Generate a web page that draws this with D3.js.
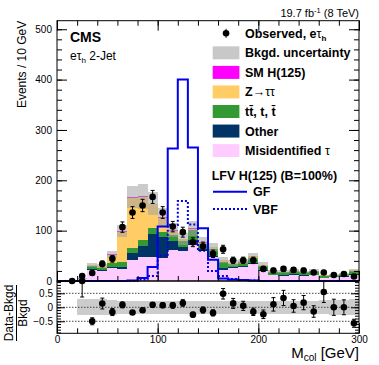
<!DOCTYPE html>
<html>
<head>
<meta charset="utf-8">
<script src="https://cdn.jsdelivr.net/npm/d3@7"></script>
<style>
body { margin: 0; background: #fff; }
text { font-family: "Liberation Sans", Arial, sans-serif; }
</style>
</head>
<body>
<div id="chart"></div>
<script>
// bins of 10 GeV, low edges
var binLow = [0,10,20,30,40,50,60,70,80,90,100,110,120,130,140,150,160,170,180,190,200,210,220,230,240,250,260,270,280,290];

// observed events per bin (null = not drawn)
var observed = [null,0,10,16,34,44,107,136,150,167,136,108,97,77,69,54,63,41,41,41,24,21,24,22,21,17,17,12,14,9];

// stacked backgrounds, bottom to top
var misidTau = [0,0,3,22,19,26,23,42,47,48,45,62,60,71,60,48,22,26,28,33,20,11,10,12,10,11,6,7,8,12];
var otherBkg = [0,0,0.5,1.5,2,2,4,14,22,45,43,17,8,10,4,2,3,2,2,2,2,1,1,1,1,1,0.5,0.5,1,1];
var ttbar    = [0,0,1,6,5,7,10,9,12,13,10,13,12,20,10,14,13,6,7,11,8,6,6,7,6,7,4,4,4,7];
var zTauTau  = [0,0,0.5,2,3.5,17,60,100,85,46,27,8,3,3,2,3,4,2,2,3,2,1,1,1,1,1,0.5,0.5,1,1];
var smHiggs  = [0,0,0,0.5,0.5,1,1.5,2,2,1.5,1.5,1,1,0.5,0.5,0.5,0.5,0,0,0,0,0,0,0,0,0,0,0,0,0];

// relative background uncertainty (main panel band) and ratio band half width
var bkgUnc   = [0,0,0.15,0.12,0.15,0.14,0.12,0.13,0.15,0.15,0.14,0.14,0.14,0.14,0.13,0.13,0.14,0.15,0.14,0.14,0.15,0.16,0.16,0.15,0.15,0.15,0.16,0.16,0.16,0.16];
var ratioUnc = [0,0,0.28,0.28,0.28,0.26,0.24,0.24,0.24,0.24,0.23,0.23,0.23,0.23,0.23,0.23,0.23,0.23,0.23,0.23,0.23,0.23,0.24,0.24,0.24,0.24,0.25,0.26,0.27,0.28];

// LFV signal (B=100%)
var lfvGF  = [0,0,0,0,0,0,0,1,6,28,108,263,400,265,105,42,5,3,2,1,0,0,0,0,0,0,0,0,0,0];
var lfvVBF = [0,0,0,0,0,0,0,0,3,10,50,111,159,112,60,20,10,4,2,1,0,0,0,0,0,0,0,0,0,0];

var yTicks = [0,100,200,300,400,500];
var xTicks = [0,100,200,300];
var ratioTicks = [-0.5,0,0.5];

var W = 379, H = 365;
var padL = 57, padR = 359, padT = 20.7, yMid = 281, padB = 333.3;

var colors = {misid:"#ffccff", other:"#003366", tt:"#339933", ztt:"#ffcc66", smh:"#ff00ff"};

var svg = d3.select("#chart").append("svg").attr("width", W).attr("height", H);

var x = d3.scaleLinear().domain([0,300]).range([padL,padR]);
var y = d3.scaleLinear().domain([0,517]).range([yMid,padT]);
var yr = d3.scaleLinear().domain([-0.93,0.94]).range([padB,yMid]);

var rows = binLow.map(function(b,i){
  return {lo:b, hi:b+10, misid:misidTau[i], other:otherBkg[i], tt:ttbar[i], ztt:zTauTau[i], smh:smHiggs[i]};
});
var keys = ["misid","other","tt","ztt","smh"];
var stacked = d3.stack().keys(keys)(rows);
var totals = rows.map(function(r){ return r.misid+r.other+r.tt+r.ztt+r.smh; });

// stack
stacked.forEach(function(layer){
  svg.append("g").selectAll("rect")
    .data(layer)
    .enter().append("rect")
    .attr("x", function(d){ return x(d.data.lo); })
    .attr("width", function(d){ return x(d.data.hi)-x(d.data.lo); })
    .attr("y", function(d){ return y(d[1]); })
    .attr("height", function(d){ return Math.max(0, y(d[0])-y(d[1])); })
    .attr("fill", colors[layer.key])
    .attr("shape-rendering","crispEdges");
});

// bkgd uncertainty band
svg.append("g").selectAll("rect")
  .data(rows.filter(function(d,i){ return totals[i] > 0; }))
  .enter().append("rect")
  .attr("x", function(d){ return x(d.lo); })
  .attr("width", function(d){ return x(d.hi)-x(d.lo); })
  .attr("y", function(d){ var i = binLow.indexOf(d.lo); return y(totals[i]*(1+bkgUnc[i])); })
  .attr("height", function(d){ var i = binLow.indexOf(d.lo); return y(totals[i]*(1-bkgUnc[i])) - y(totals[i]*(1+bkgUnc[i])); })
  .attr("fill", "#a0a0a0")
  .attr("fill-opacity", 0.55)
  .attr("shape-rendering","crispEdges");

// signal outlines
function stepPts(vals){
  var pts = binLow.map(function(b,i){ return [b, vals[i]]; });
  pts.push([300, vals[vals.length-1]]);
  return pts;
}
var stepLine = d3.line()
  .x(function(d){ return x(d[0]); })
  .y(function(d){ return y(d[1]); })
  .curve(d3.curveStepAfter);

svg.append("path").attr("d", stepLine(stepPts(lfvGF)))
  .attr("fill","none").attr("stroke","#0000ee").attr("stroke-width",2);
svg.append("path").attr("d", stepLine(stepPts(lfvVBF)))
  .attr("fill","none").attr("stroke","#0000ee").attr("stroke-width",2).attr("stroke-dasharray","2,2");

// observed points
var obs = binLow.map(function(b,i){ return {c:b+5, n:observed[i]}; }).filter(function(d){ return d.n !== null; });
var gObs = svg.append("g");
obs.forEach(function(d){
  if (d.n > 0) {
    var e = Math.sqrt(d.n);
    gObs.append("line").attr("x1",x(d.c)).attr("x2",x(d.c)).attr("y1",y(d.n+e)).attr("y2",y(d.n-e)).attr("stroke","#000");
    [d.n+e, d.n-e].forEach(function(v){
      gObs.append("line").attr("x1",x(d.c)-2).attr("x2",x(d.c)+2).attr("y1",y(v)).attr("y2",y(v)).attr("stroke","#000");
    });
  }
  gObs.append("circle").attr("cx",x(d.c)).attr("cy",y(d.n)).attr("r",3.3).attr("fill","#000");
});

// ratio panel band
svg.append("g").selectAll("rect")
  .data(rows.filter(function(d,i){ return totals[i] > 0; }))
  .enter().append("rect")
  .attr("x", function(d){ return x(d.lo); })
  .attr("width", function(d){ return x(d.hi)-x(d.lo); })
  .attr("y", function(d){ return yr(ratioUnc[binLow.indexOf(d.lo)]); })
  .attr("height", function(d){ var u = ratioUnc[binLow.indexOf(d.lo)]; return yr(-u)-yr(u); })
  .attr("fill", "#cccccc")
  .attr("shape-rendering","crispEdges");

ratioTicks.forEach(function(t){
  svg.append("line").attr("x1",padL).attr("x2",padR).attr("y1",yr(t)).attr("y2",yr(t))
    .attr("stroke","#444").attr("stroke-dasharray","1.5,1.5");
});

var gRat = svg.append("g");
binLow.forEach(function(b,i){
  var n = observed[i];
  if (n === null || totals[i] <= 0) return;
  var r = n/totals[i] - 1, e = Math.sqrt(n)/totals[i];
  var lim = yr.domain();
  var rc = Math.max(lim[0], Math.min(lim[1], r));
  var cx = x(b+5);
  var lo = Math.max(lim[0], r-e), hi = Math.min(lim[1], r+e);
  gRat.append("line").attr("x1",cx).attr("x2",cx).attr("y1",yr(hi)).attr("y2",yr(lo)).attr("stroke","#000");
  [hi, lo].forEach(function(v){
    gRat.append("line").attr("x1",cx-2).attr("x2",cx+2).attr("y1",yr(v)).attr("y2",yr(v)).attr("stroke","#000");
  });
  gRat.append("circle").attr("cx",cx).attr("cy",yr(rc)).attr("r",3.3).attr("fill","#000");
});

// frames
svg.append("rect").attr("x",padL).attr("y",padT).attr("width",padR-padL).attr("height",yMid-padT)
  .attr("fill","none").attr("stroke","#000");
svg.append("rect").attr("x",padL).attr("y",yMid).attr("width",padR-padL).attr("height",padB-yMid)
  .attr("fill","none").attr("stroke","#000");

// axes (ticks point inward)
function addAxis(orient, scale, pos, major, minor, labels, majorLen, minorLen, pad) {
  var mk = {left:d3.axisLeft, right:d3.axisRight, top:d3.axisTop, bottom:d3.axisBottom}[orient];
  var tr = (orient == "left" || orient == "right") ? "translate(" + pos + ",0)" : "translate(0," + pos + ")";
  var gMin = svg.append("g").attr("transform", tr)
    .call(mk(scale).tickValues(minor).tickSize(-minorLen).tickFormat(""));
  var gMaj = svg.append("g").attr("transform", tr)
    .call(mk(scale).tickValues(major).tickSize(-majorLen).tickPadding(pad || 3)
      .tickFormat(labels ? d3.format("") : function(){ return ""; }));
  [gMin, gMaj].forEach(function(g){
    g.select(".domain").remove();
    g.attr("font-family", null).attr("font-size", null);
    g.selectAll("line").attr("stroke","#000");
  });
  gMaj.selectAll("text").attr("font-size", 10).attr("fill","#000");
}

var yMinor = d3.range(0, 517, 20);
addAxis("left", y, padL, yTicks, yMinor, true, 10, 5, 5);
addAxis("right", y, padR, yTicks, yMinor, false, 10, 5);
var xMinor = d3.range(0, 301, 20);
addAxis("top", x, padT, xTicks, xMinor, false, 10, 5);
addAxis("bottom", x, yMid, xTicks, xMinor, false, 10, 5);
var rMinor = d3.range(-0.9, 0.95, 0.1);
addAxis("left", yr, padL, ratioTicks, rMinor, true, 8, 4, 4);
addAxis("right", yr, padR, ratioTicks, rMinor, false, 8, 4);
addAxis("bottom", x, padB, xTicks, xMinor, true, 10, 5, 3);

// titles
svg.append("text").attr("transform","translate(26," + padT + ") rotate(-90)")
  .attr("text-anchor","end").attr("font-size",12).text("Events / 10 GeV");

var rt = svg.append("g").attr("transform","translate(0,313) rotate(-90)");
rt.append("text").attr("x",0).attr("y",12.5).attr("text-anchor","middle").attr("font-size",12).text("Data-Bkgd");
rt.append("text").attr("x",0).attr("y",27).attr("text-anchor","middle").attr("font-size",12).text("Bkgd");
rt.append("line").attr("x1",-28).attr("x2",28).attr("y1",16.5).attr("y2",16.5).attr("stroke","#000");

var xt = svg.append("text").attr("x",padR).attr("y",357.5).attr("text-anchor","end").attr("font-size",15);
xt.append("tspan").text("M");
xt.append("tspan").attr("font-size",10).attr("dy",3).text("col");
xt.append("tspan").attr("dy",-3).text(" [GeV]");

var lumi = svg.append("text").attr("x",padR).attr("y",16.5).attr("text-anchor","end").attr("font-size",11);
lumi.append("tspan").text("19.7 fb");
lumi.append("tspan").attr("font-size",7.5).attr("dy",-4).text("-1");
lumi.append("tspan").attr("dy",4).text(" (8 TeV)");

svg.append("text").attr("x",70).attr("y",41.7).attr("font-size",14).attr("font-weight","bold").text("CMS");
var cat = svg.append("text").attr("x",70).attr("y",60).attr("font-size",12);
cat.append("tspan").text("eτ");
cat.append("tspan").attr("font-size",8).attr("dy",3).text("h");
cat.append("tspan").attr("dy",-3).text(" 2-Jet");

// legend
var legRowY = [33.3, 52.85, 72.4, 91.95, 111.5, 131.05, 150.6];
var legX = 212.7, legW = 26.7, legH = 13, legTx = 245;
var lg = svg.append("g").attr("font-size",12.5).attr("font-weight","bold");

lg.append("line").attr("x1",legX+legW/2).attr("x2",legX+legW/2).attr("y1",legRowY[0]-4.5).attr("y2",legRowY[0]+4.5).attr("stroke","#000");
lg.append("circle").attr("cx",legX+legW/2).attr("cy",legRowY[0]).attr("r",3.3).attr("fill","#000");
var t0 = lg.append("text").attr("x",legTx).attr("y",legRowY[0]+4.5);
t0.append("tspan").text("Observed, e");
t0.append("tspan").attr("font-weight","normal").text("τ");
t0.append("tspan").attr("font-size",8).attr("dy",3).text("h");

var swatches = [
  {c:"#c8c8c8", row:1},
  {c:colors.smh, row:2},
  {c:colors.ztt, row:3},
  {c:colors.tt, row:4},
  {c:colors.other, row:5},
  {c:colors.misid, row:6}
];
swatches.forEach(function(s){
  lg.append("rect").attr("x",legX).attr("y",legRowY[s.row]-legH/2).attr("width",legW).attr("height",legH)
    .attr("fill",s.c);
});
function legText(row){ return lg.append("text").attr("x",legTx).attr("y",legRowY[row]+4.5); }
legText(1).text("Bkgd. uncertainty");
legText(2).text("SM H(125)");
var tz = legText(3); tz.append("tspan").text("Z"); tz.append("tspan").attr("font-weight","normal").text("→ττ");
legText(4).text("tt\u0304, t,  t\u0304");
legText(5).text("Other");
var tm = legText(6); tm.append("tspan").text("Misidentified "); tm.append("tspan").attr("font-weight","normal").text("τ");

lg.append("text").attr("x",211.7).attr("y",179.5).text("LFV H(125) (B=100%)");
lg.append("line").attr("x1",213).attr("x2",247).attr("y1",191.7).attr("y2",191.7).attr("stroke","#0000ee").attr("stroke-width",2);
lg.append("text").attr("x",253).attr("y",196.2).text("GF");
lg.append("line").attr("x1",213).attr("x2",247).attr("y1",209).attr("y2",209).attr("stroke","#0000ee").attr("stroke-width",2).attr("stroke-dasharray","2,2");
lg.append("text").attr("x",253).attr("y",213.5).text("VBF");
</script>
</body>
</html>
